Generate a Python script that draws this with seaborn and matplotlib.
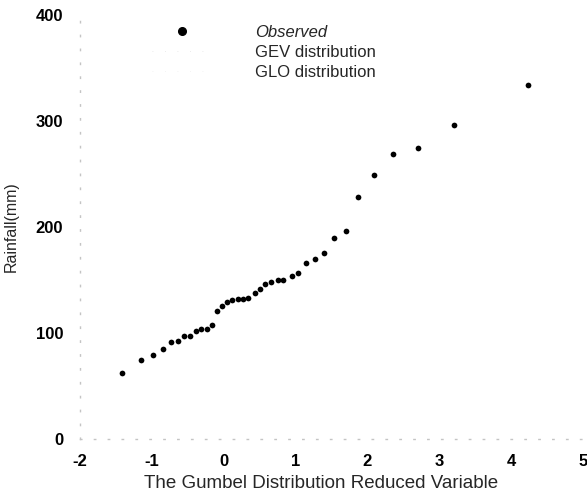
import numpy as np
import pandas as pd
import matplotlib
matplotlib.use("Agg")
import matplotlib.pyplot as plt
from matplotlib.lines import Line2D
import seaborn as sns

# Gumbel reduced variable and observed rainfall (mm)
reduced_variable = [
    -1.42, -1.15, -0.98, -0.85, -0.74, -0.64, -0.55, -0.47, -0.38, -0.31,
    -0.23, -0.16, -0.09, -0.02, 0.05, 0.12, 0.20, 0.27, 0.34, 0.43,
    0.50, 0.58, 0.66, 0.75, 0.83, 0.95, 1.04, 1.15, 1.27, 1.39,
    1.53, 1.70, 1.87, 2.09, 2.36, 2.70, 3.21, 4.24,
]
rainfall = [
    62.0, 74.5, 79.5, 84.6, 91.8, 92.5, 97.2, 97.2, 102.2, 104.1,
    103.5, 107.5, 120.8, 125.5, 128.8, 131.1, 131.8, 132.1, 132.7, 138.0,
    141.2, 145.9, 148.4, 150.0, 150.0, 154.1, 156.9, 165.8, 169.5, 175.0,
    189.9, 196.2, 228.0, 249.3, 269.3, 274.5, 295.9, 334.2,
]
legend_labels = ["Observed", "GEV distribution", "GLO distribution"]
x_ticks = [-2, -1, 0, 1, 2, 3, 4, 5]
y_ticks = [0, 100, 200, 300, 400]

df = pd.DataFrame({"u": reduced_variable, "rain": rainfall})

sns.set_theme(style="white")
plt.rcParams["font.family"] = ["Liberation Sans", "DejaVu Sans"]
plt.rcParams["axes.unicode_minus"] = False

fig = plt.figure(figsize=(5.87, 4.91), dpi=100)
ax = fig.add_axes([0.1363, 0.1059, 0.8569, 0.8636])

sns.scatterplot(data=df, x="u", y="rain", ax=ax, color="black",
                s=17, linewidth=0, legend=False)

ax.set_xlim(-2, 5)
ax.set_ylim(0, 400)
ax.set_xticks(x_ticks)
ax.set_yticks(y_ticks)
ax.tick_params(axis="both", length=0, labelsize=12, colors="black")
ax.tick_params(axis="x", pad=11)
ax.tick_params(axis="y", pad=12)
for lab in ax.get_xticklabels() + ax.get_yticklabels():
    lab.set_fontweight("bold")

# the scanned axes are almost gone: leave faint dotted remnants
for side in ["top", "right"]:
    ax.spines[side].set_visible(False)
for side in ["left", "bottom"]:
    ax.spines[side].set_color("#c4c4c4")
    ax.spines[side].set_linestyle((0, (1, 9)))
    ax.spines[side].set_linewidth(1.0)

ax.set_xlabel("The Gumbel Distribution Reduced Variable", fontsize=13.5)
ax.xaxis.set_label_coords(0.48, -0.085)
ax.set_ylabel("Rainfall(mm)", fontsize=11.5, labelpad=12)

handles = [
    Line2D([], [], marker="o", color="black", linestyle="none", markersize=5.5),
    Line2D([], [], color="#e4e4e4", linestyle=(0, (1, 14)), linewidth=0.6),
    Line2D([], [], color="#f0f0f0", linestyle=(0, (1, 14)), linewidth=0.6),
]
leg = ax.legend(handles, legend_labels, loc="upper left",
                bbox_to_anchor=(152 / 587, 1 - 25 / 491),
                bbox_transform=fig.transFigure, frameon=False,
                fontsize=12, handlelength=3.6, handletextpad=2.6,
                labelspacing=0.3, borderpad=0, borderaxespad=0)
leg.get_texts()[0].set_fontstyle("italic")

fig.savefig("out.png", dpi=100)
